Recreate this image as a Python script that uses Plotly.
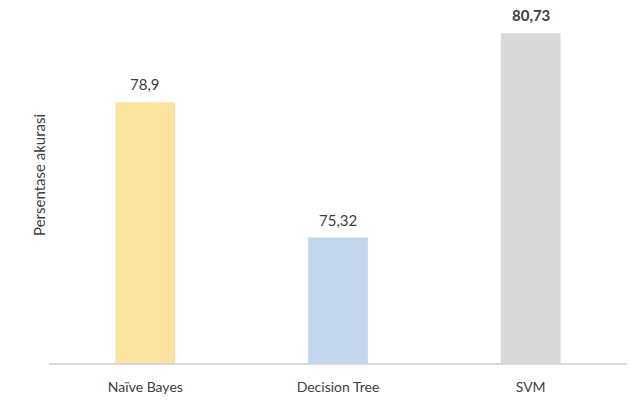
import plotly.graph_objects as go

categories = ["Naïve Bayes", "Decision Tree", "SVM"]
values = [78.9, 75.32, 80.73]
labels = ["78,9", "75,32", "80,73"]
colors = ["#FCE4A0", "#C3D6EB", "#D9D9D9"]
bold = [False, False, True]

fig = go.Figure(go.Bar(
    x=categories, y=values, marker=dict(color=colors, line=dict(width=0)),
    width=0.31,
))

for c, v, t, b in zip(categories, values, labels, bold):
    fig.add_annotation(x=c, y=v, text=f"<b>{t}</b>" if b else t,
                       showarrow=False, yanchor="bottom", yshift=7,
                       font=dict(size=15, color="#404040"))

fig.add_annotation(xref="paper", yref="paper", x=-10 / 578, y=0.553,
                   text="Persentase akurasi", textangle=-90, showarrow=False,
                   xanchor="center", yanchor="middle",
                   font=dict(size=15, color="#404040"))

fig.update_layout(
    width=633, height=402,
    margin=dict(l=49, r=6, t=23, b=39),
    plot_bgcolor="white", paper_bgcolor="white",
    font=dict(family="Lato, Open Sans, sans-serif", color="#404040", size=14),
    showlegend=False,
    xaxis=dict(showline=True, linecolor="#D9D9D9", linewidth=1.5,
               ticks="", ticklabelstandoff=10,
               tickfont=dict(size=14, color="#404040")),
    yaxis=dict(range=[72, 81], showgrid=False, showticklabels=False,
               zeroline=False, showline=False),
)

fig.write_html("out.html")
